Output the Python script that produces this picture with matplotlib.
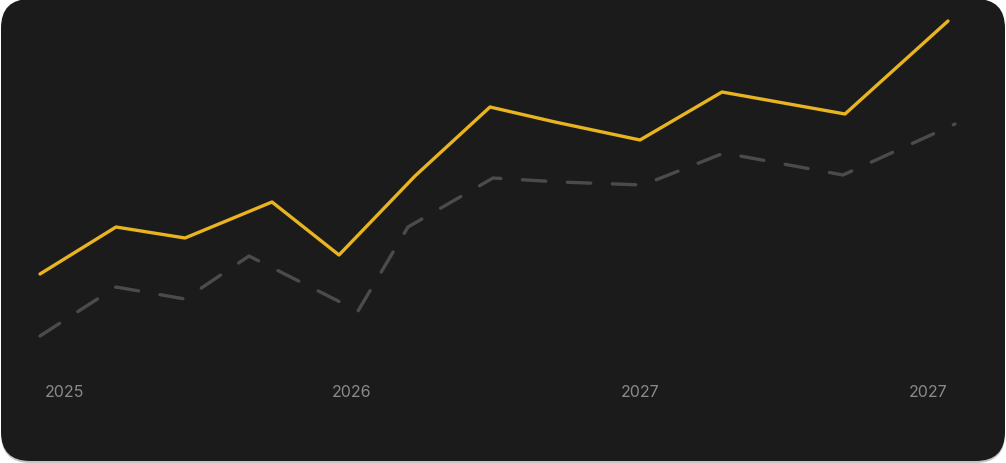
import matplotlib
matplotlib.use('Agg')
import matplotlib.pyplot as plt
from matplotlib.patches import FancyBboxPatch

plt.rcParams['font.family'] = ['Inter', 'DejaVu Sans']

# 数据 (x 为时间轴位置, y 为数值)
x_main = [0, 76, 145, 232, 299, 375, 450, 515, 600, 682, 805, 908]
y_main = [105, 152, 141, 177, 124, 203, 272, 257, 239, 287, 265, 358]

x_ref = [0, 76, 145, 209, 318, 368, 453, 520, 603, 684, 803, 915]
y_ref = [43, 92, 80, 123, 68, 152, 201, 197, 194, 226, 204, 255]

tick_pos = [24, 312, 600, 888]
tick_labels = ['2025', '2026', '2027', '2027']

fig = plt.figure(figsize=(10.06, 4.64), dpi=100)
fig.patch.set_facecolor('white')

ax = fig.add_axes([0, 0, 1, 1])
ax.set_facecolor('none')
ax.set_xlim(-40, 966)
ax.set_ylim(-84, 380)
ax.axis('off')

# 圆角深色背景 (下方一条浅灰阴影)
W, H = 1006, 464
shadow = FancyBboxPatch((1 / W, 0), 1004 / W, 461 / H,
                        boxstyle='round,pad=0,rounding_size=0.029',
                        transform=fig.transFigure, facecolor='#c4c4c4',
                        edgecolor='none', mutation_aspect=W / H,
                        zorder=0, clip_on=False)
ax.add_patch(shadow)
bg = FancyBboxPatch((1 / W, 2 / H), 1004 / W, 462 / H,
                    boxstyle='round,pad=0,rounding_size=0.029',
                    transform=fig.transFigure, facecolor='#1b1b1b',
                    edgecolor='none', mutation_aspect=W / H,
                    zorder=1, clip_on=False)
ax.add_patch(bg)

ax.plot(x_ref, y_ref, color='#4b4b4b', lw=2.4, dashes=(7, 6.5),
        solid_joinstyle='round', dash_capstyle='round', zorder=2)
ax.plot(x_main, y_main, color='#e8b420', lw=2.4,
        solid_joinstyle='round', solid_capstyle='round', zorder=3)

for p, lab in zip(tick_pos, tick_labels):
    ax.text(p, -13, lab, color='#8a8a8a', fontsize=11.5,
            ha='center', va='center', zorder=4)

fig.savefig('out.png', dpi=100)
